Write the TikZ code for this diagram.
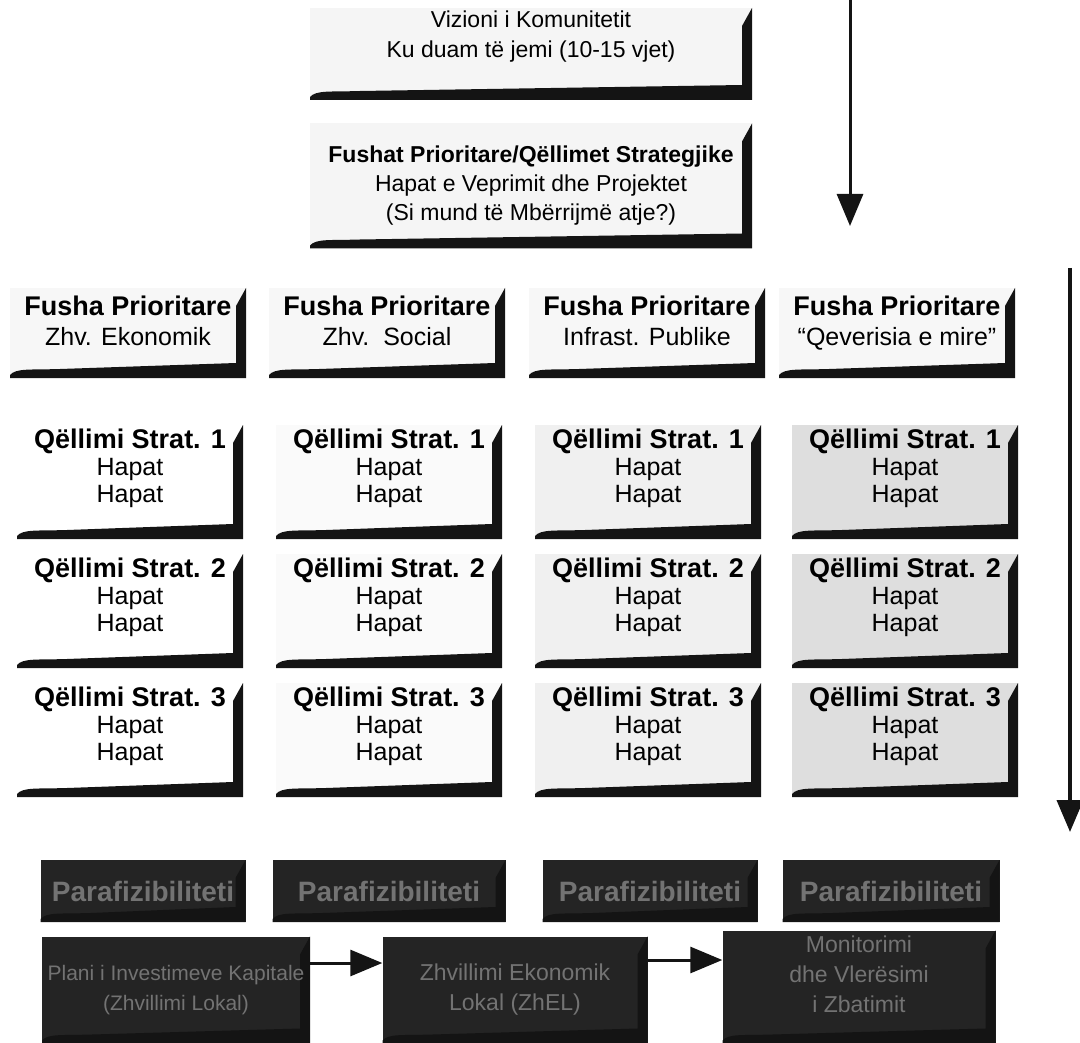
\documentclass[tikz,border=0pt]{standalone}
\usepackage{fontspec}
\setmainfont{Liberation Sans}
\usepackage{tikz}
\usetikzlibrary{arrows.meta}
\colorlet{ink}{black!92}
\tikzset{
  bevel/.style = {rectangle, inner sep=0pt, align=center, fill=#1,
    path picture={\fill[ink] (path picture bounding box.north east)
      -- (path picture bounding box.south east)
      -- (path picture bounding box.south west)
      -- ([yshift=3pt]path picture bounding box.south west)
      .. controls ([xshift=6pt,yshift=10pt]path picture bounding box.south west)
      and ([xshift=20pt,yshift=8pt]path picture bounding box.south west)
      .. ([xshift=50pt,yshift=9pt]path picture bounding box.south west)
      -- ([xshift=-10pt,yshift=15pt]path picture bounding box.south east)
      -- ([xshift=-10pt,yshift=-18pt]path picture bounding box.north east)
      -- cycle;}},% kuti me hije
  bevel/.default = black!3,
  vision_box/.style = {bevel=black!4, minimum width=442pt, minimum height=92pt,
    text depth=40pt, font=\fontsize{23}{30}\selectfont},% vizioni
  area_box/.style = {bevel, minimum width=236pt, minimum height=90pt,
    text depth=24pt, font=\fontsize{25}{30}\selectfont},% fusha prioritare
  goal_box/.style = {bevel=#1, minimum width=226pt, minimum height=114pt,
    text depth=33pt, font=\fontsize{25}{27}\selectfont},% qellimi strategjik
  dark_box/.style = {bevel=black!86, text=black!55,
    font=\fontsize{23}{30}\selectfont},% kuti e erret
  flow/.style = {ink, line width=3pt, -{Triangle[length=32pt,width=26pt]}}
}

\begin{document}
\begin{tikzpicture}[x=1pt, y=-1pt]
  \useasboundingbox (0,0) rectangle (1080,1043);
  \node [vision_box] (vis) at (531,54)
    {Vizioni i Komunitetit\\Ku duam të jemi (10-15 vjet)};
  \node [bevel=black!4, minimum width=442pt, minimum height=125pt,
    font=\fontsize{23}{29}\selectfont] (fushat) at (531,186)
    {{\bfseries Fushat Prioritare/Qëllimet Strategjike}\\Hapat e Veprimit dhe Projektet\\(Si mund të Mbërrijmë atje?)};

  \node [area_box] (fp1) at (128,333) {{\fontsize{27}{30}\bfseries Fusha Prioritare}\\Zhv. Ekonomik};
  \node [area_box] (fp2) at (387,333) {{\fontsize{27}{30}\bfseries Fusha Prioritare}\\Zhv.\ \ Social};
  \node [area_box] (fp3) at (647,333) {{\fontsize{27}{30}\bfseries Fusha Prioritare}\\Infrast. Publike};
  \node [area_box] (fp4) at (897,333) {{\fontsize{27}{30}\bfseries Fusha Prioritare}\\“Qeverisia e mire”};

  \foreach \c/\x/\shade in {1/130/white, 2/389/black!2, 3/648/black!6, 4/905/black!13}
    \foreach \r/\y in {1/482, 2/611, 3/740}
      \node [goal_box=\shade] (q\c\r) at (\x,\y)
        {{\fontsize{27}{27}\bfseries Qëllimi Strat. \r}\\Hapat\\Hapat};

  \foreach \c/\x/\w in {1/143/205, 2/389/233, 3/650/215, 4/891/217}
    \node [dark_box, minimum width=\w pt, minimum height=62pt, font=\fontsize{28}{30}\bfseries]
      (pf\c) at (\x,891) {Parafizibiliteti};

  \node [dark_box, minimum width=268pt, minimum height=107pt, font=\fontsize{21}{30}\selectfont]
    (plan) at (176,990) {Plani i Investimeve Kapitale\\(Zhvillimi Lokal)};
  \node [dark_box, minimum width=265pt, minimum height=107pt] (zhel) at (515,990)
    {Zhvillimi Ekonomik\\Lokal (ZhEL)};
  \node [dark_box, minimum width=273pt, minimum height=113pt, text depth=25pt] (mon) at (859,987)
    {Monitorimi\\dhe Vlerësimi\\i Zbatimit};

  \coordinate (top_start) at (850,0);
  \coordinate (top_end) at (850,226);
  \coordinate (side_start) at (1070,268);
  \coordinate (side_end) at (1070,832);
  \draw [flow] (top_start) -- (top_end);
  \draw [flow, line width=4pt] (side_start) -- (side_end);
  \draw [flow] ([yshift=27pt]plan.east) -- ([yshift=27pt]zhel.west);
  \draw [flow] ([yshift=30pt]zhel.east) -- ([yshift=30pt]zhel.east -| mon.west);
\end{tikzpicture}
\end{document}
